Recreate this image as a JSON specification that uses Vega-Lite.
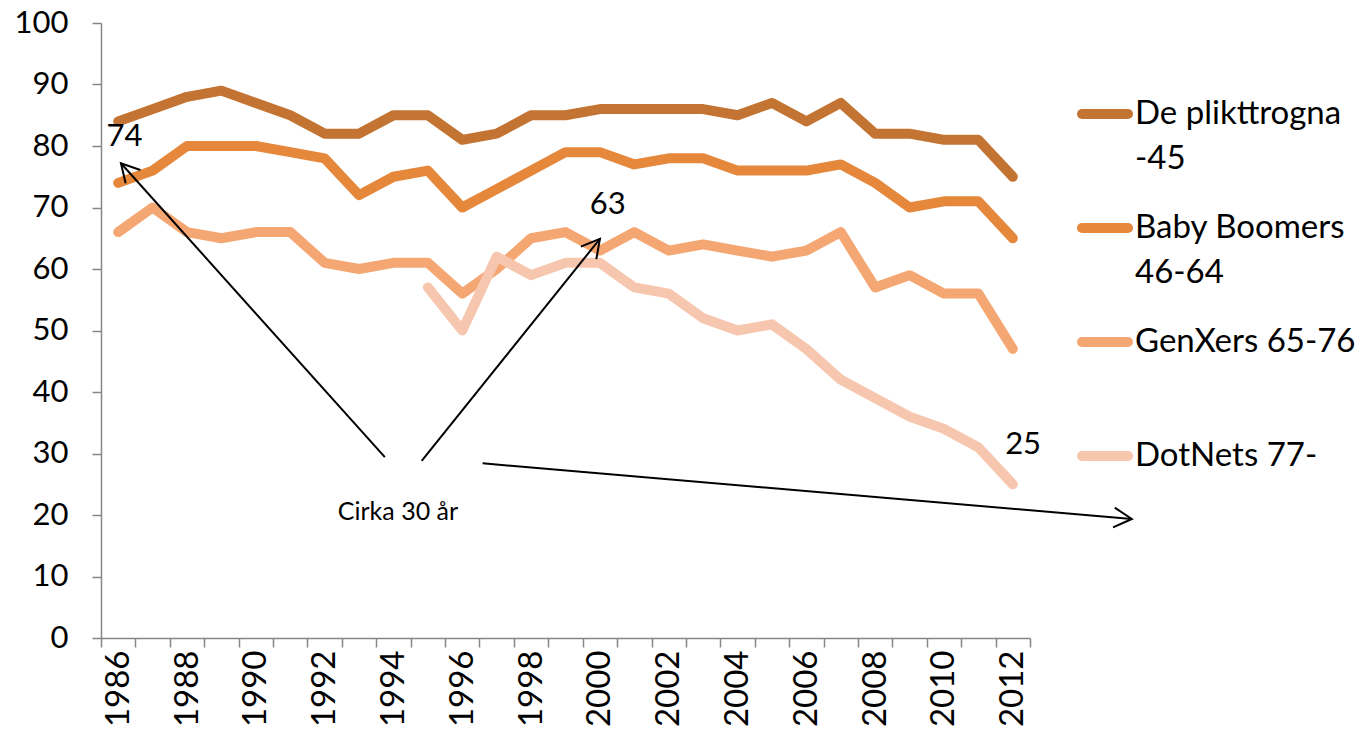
{
  "$schema": "https://vega.github.io/schema/vega-lite/v6.json",
  "width": 929,
  "height": 615,
  "autosize": {"type": "none"},
  "padding": {"left": 101, "top": 23, "right": 333, "bottom": 100},
  "background": "white",
  "config": {
    "view": {"stroke": null},
    "font": "Lato",
    "axis": {"labelFont": "Lato", "labelColor": "#000000", "domainColor": "#868686", "tickColor": "#868686", "grid": false, "title": null}
  },
  "datasets": {
    "series": [
      {"year": 1986, "group": "De plikttrogna -45", "value": 84},
      {"year": 1987, "group": "De plikttrogna -45", "value": 86},
      {"year": 1988, "group": "De plikttrogna -45", "value": 88},
      {"year": 1989, "group": "De plikttrogna -45", "value": 89},
      {"year": 1990, "group": "De plikttrogna -45", "value": 87},
      {"year": 1991, "group": "De plikttrogna -45", "value": 85},
      {"year": 1992, "group": "De plikttrogna -45", "value": 82},
      {"year": 1993, "group": "De plikttrogna -45", "value": 82},
      {"year": 1994, "group": "De plikttrogna -45", "value": 85},
      {"year": 1995, "group": "De plikttrogna -45", "value": 85},
      {"year": 1996, "group": "De plikttrogna -45", "value": 81},
      {"year": 1997, "group": "De plikttrogna -45", "value": 82},
      {"year": 1998, "group": "De plikttrogna -45", "value": 85},
      {"year": 1999, "group": "De plikttrogna -45", "value": 85},
      {"year": 2000, "group": "De plikttrogna -45", "value": 86},
      {"year": 2001, "group": "De plikttrogna -45", "value": 86},
      {"year": 2002, "group": "De plikttrogna -45", "value": 86},
      {"year": 2003, "group": "De plikttrogna -45", "value": 86},
      {"year": 2004, "group": "De plikttrogna -45", "value": 85},
      {"year": 2005, "group": "De plikttrogna -45", "value": 87},
      {"year": 2006, "group": "De plikttrogna -45", "value": 84},
      {"year": 2007, "group": "De plikttrogna -45", "value": 87},
      {"year": 2008, "group": "De plikttrogna -45", "value": 82},
      {"year": 2009, "group": "De plikttrogna -45", "value": 82},
      {"year": 2010, "group": "De plikttrogna -45", "value": 81},
      {"year": 2011, "group": "De plikttrogna -45", "value": 81},
      {"year": 2012, "group": "De plikttrogna -45", "value": 75},
      {"year": 1986, "group": "Baby Boomers 46-64", "value": 74},
      {"year": 1987, "group": "Baby Boomers 46-64", "value": 76},
      {"year": 1988, "group": "Baby Boomers 46-64", "value": 80},
      {"year": 1989, "group": "Baby Boomers 46-64", "value": 80},
      {"year": 1990, "group": "Baby Boomers 46-64", "value": 80},
      {"year": 1991, "group": "Baby Boomers 46-64", "value": 79},
      {"year": 1992, "group": "Baby Boomers 46-64", "value": 78},
      {"year": 1993, "group": "Baby Boomers 46-64", "value": 72},
      {"year": 1994, "group": "Baby Boomers 46-64", "value": 75},
      {"year": 1995, "group": "Baby Boomers 46-64", "value": 76},
      {"year": 1996, "group": "Baby Boomers 46-64", "value": 70},
      {"year": 1997, "group": "Baby Boomers 46-64", "value": 73},
      {"year": 1998, "group": "Baby Boomers 46-64", "value": 76},
      {"year": 1999, "group": "Baby Boomers 46-64", "value": 79},
      {"year": 2000, "group": "Baby Boomers 46-64", "value": 79},
      {"year": 2001, "group": "Baby Boomers 46-64", "value": 77},
      {"year": 2002, "group": "Baby Boomers 46-64", "value": 78},
      {"year": 2003, "group": "Baby Boomers 46-64", "value": 78},
      {"year": 2004, "group": "Baby Boomers 46-64", "value": 76},
      {"year": 2005, "group": "Baby Boomers 46-64", "value": 76},
      {"year": 2006, "group": "Baby Boomers 46-64", "value": 76},
      {"year": 2007, "group": "Baby Boomers 46-64", "value": 77},
      {"year": 2008, "group": "Baby Boomers 46-64", "value": 74},
      {"year": 2009, "group": "Baby Boomers 46-64", "value": 70},
      {"year": 2010, "group": "Baby Boomers 46-64", "value": 71},
      {"year": 2011, "group": "Baby Boomers 46-64", "value": 71},
      {"year": 2012, "group": "Baby Boomers 46-64", "value": 65},
      {"year": 1986, "group": "GenXers 65-76", "value": 66},
      {"year": 1987, "group": "GenXers 65-76", "value": 70},
      {"year": 1988, "group": "GenXers 65-76", "value": 66},
      {"year": 1989, "group": "GenXers 65-76", "value": 65},
      {"year": 1990, "group": "GenXers 65-76", "value": 66},
      {"year": 1991, "group": "GenXers 65-76", "value": 66},
      {"year": 1992, "group": "GenXers 65-76", "value": 61},
      {"year": 1993, "group": "GenXers 65-76", "value": 60},
      {"year": 1994, "group": "GenXers 65-76", "value": 61},
      {"year": 1995, "group": "GenXers 65-76", "value": 61},
      {"year": 1996, "group": "GenXers 65-76", "value": 56},
      {"year": 1997, "group": "GenXers 65-76", "value": 60},
      {"year": 1998, "group": "GenXers 65-76", "value": 65},
      {"year": 1999, "group": "GenXers 65-76", "value": 66},
      {"year": 2000, "group": "GenXers 65-76", "value": 63},
      {"year": 2001, "group": "GenXers 65-76", "value": 66},
      {"year": 2002, "group": "GenXers 65-76", "value": 63},
      {"year": 2003, "group": "GenXers 65-76", "value": 64},
      {"year": 2004, "group": "GenXers 65-76", "value": 63},
      {"year": 2005, "group": "GenXers 65-76", "value": 62},
      {"year": 2006, "group": "GenXers 65-76", "value": 63},
      {"year": 2007, "group": "GenXers 65-76", "value": 66},
      {"year": 2008, "group": "GenXers 65-76", "value": 57},
      {"year": 2009, "group": "GenXers 65-76", "value": 59},
      {"year": 2010, "group": "GenXers 65-76", "value": 56},
      {"year": 2011, "group": "GenXers 65-76", "value": 56},
      {"year": 2012, "group": "GenXers 65-76", "value": 47},
      {"year": 1995, "group": "DotNets 77-", "value": 57},
      {"year": 1996, "group": "DotNets 77-", "value": 50},
      {"year": 1997, "group": "DotNets 77-", "value": 62},
      {"year": 1998, "group": "DotNets 77-", "value": 59},
      {"year": 1999, "group": "DotNets 77-", "value": 61},
      {"year": 2000, "group": "DotNets 77-", "value": 61},
      {"year": 2001, "group": "DotNets 77-", "value": 57},
      {"year": 2002, "group": "DotNets 77-", "value": 56},
      {"year": 2003, "group": "DotNets 77-", "value": 52},
      {"year": 2004, "group": "DotNets 77-", "value": 50},
      {"year": 2005, "group": "DotNets 77-", "value": 51},
      {"year": 2006, "group": "DotNets 77-", "value": 47},
      {"year": 2007, "group": "DotNets 77-", "value": 42},
      {"year": 2008, "group": "DotNets 77-", "value": 39},
      {"year": 2009, "group": "DotNets 77-", "value": 36},
      {"year": 2010, "group": "DotNets 77-", "value": 34},
      {"year": 2011, "group": "DotNets 77-", "value": 31},
      {"year": 2012, "group": "DotNets 77-", "value": 25}
    ],
    "arrows": [
      {"id": "a1", "x1": 1993.75, "y1": 29.4, "x2": 1986.08, "y2": 77.2},
      {"id": "a2", "x1": 1994.82, "y1": 28.8, "x2": 2000.0, "y2": 64.9},
      {"id": "a3", "x1": 1996.59, "y1": 28.4, "x2": 2015.46, "y2": 19.35}
    ],
    "notes": [
      {"year": 1986.18, "value": 81.5, "label": "74", "kind": "num"},
      {"year": 2000.23, "value": 70.4, "label": "63", "kind": "num"},
      {"year": 2012.3, "value": 31.4, "label": "25", "kind": "num"},
      {"year": 1994.13, "value": 20.5, "label": "Cirka 30 år", "kind": "note"}
    ]
  },
  "resolve": {"axis": {"x": "independent"}},
  "layer": [
    {
      "data": {"name": "series"},
      "mark": {"type": "line", "strokeWidth": 10, "strokeCap": "round", "strokeJoin": "round"},
      "encoding": {
        "x": {"field": "year", "type": "quantitative",
          "scale": {"domain": [1985.5, 2012.5], "nice": false, "zero": false},
          "axis": {"orient": "bottom", "values": [1986, 1988, 1990, 1992, 1994, 1996, 1998, 2000, 2002, 2004, 2006, 2008, 2010, 2012], "ticks": false, "labelAngle": -90, "labelFontSize": 33, "labelPadding": 12, "format": "d", "domainWidth": 1.5, "labelFlush": false, "labelOverlap": false}},
        "y": {"field": "value", "type": "quantitative",
          "scale": {"domain": [0, 100], "nice": false},
          "axis": {"values": [0, 10, 20, 30, 40, 50, 60, 70, 80, 90, 100], "tickSize": 9, "labelFontSize": 31, "labelPadding": 24, "domainWidth": 1.5, "tickWidth": 1.5, "labelFlush": false}},
        "color": {"field": "group", "type": "nominal",
          "scale": {"domain": ["De plikttrogna -45", "Baby Boomers 46-64", "GenXers 65-76", "DotNets 77-"], "range": ["#C37432", "#E6883C", "#F5A773", "#F7C6AE"]},
          "legend": {
            "orient": "none", "legendX": 976, "legendY": 63, "padding": 0,
            "title": null, "symbolType": "stroke", "symbolSize": 2116, "symbolStrokeWidth": 10,
            "labelFont": "Lato", "labelFontSize": 33, "labelColor": "#000000", "labelOffset": 2, "labelLimit": 400,
            "rowPadding": 24,
            "labelExpr": "datum.label == 'De plikttrogna -45' ? ['De plikttrogna', '-45'] : datum.label == 'Baby Boomers 46-64' ? ['Baby Boomers', '46-64'] : [datum.label, ' ']",
            "encode": {
              "symbols": {"update": {"strokeCap": {"value": "round"}}},
              "labels": {"update": {"lineHeight": {"value": 45}}}
            }
          }
        }
      }
    },
    {
      "data": {"name": "arrows"},
      "mark": {"type": "rule", "color": "#000000", "strokeWidth": 2},
      "encoding": {
        "x": {"field": "x1", "type": "quantitative",
          "axis": {"orient": "bottom", "values": [1985.5, 1986.5, 1987.5, 1988.5, 1989.5, 1990.5, 1991.5, 1992.5, 1993.5, 1994.5, 1995.5, 1996.5, 1997.5, 1998.5, 1999.5, 2000.5, 2001.5, 2002.5, 2003.5, 2004.5, 2005.5, 2006.5, 2007.5, 2008.5, 2009.5, 2010.5, 2011.5, 2012.5], "labels": false, "domain": false, "tickSize": 9, "tickWidth": 1.5}},
        "y": {"field": "y1", "type": "quantitative"},
        "x2": {"field": "x2"},
        "y2": {"field": "y2"}
      }
    },
    {
      "data": {"name": "arrows"},
      "transform": [{"filter": "datum.id == 'a1'"}],
      "mark": {"type": "point", "shape": "M-1,-0.55L0,0L-1,0.55", "filled": false, "stroke": "#000000", "strokeWidth": 2, "size": 1296, "angle": 228, "opacity": 1},
      "encoding": {"x": {"field": "x2", "type": "quantitative", "axis": null}, "y": {"field": "y2", "type": "quantitative"}}
    },
    {
      "data": {"name": "arrows"},
      "transform": [{"filter": "datum.id == 'a2'"}],
      "mark": {"type": "point", "shape": "M-1,-0.55L0,0L-1,0.55", "filled": false, "stroke": "#000000", "strokeWidth": 2, "size": 1296, "angle": 308.8, "opacity": 1},
      "encoding": {"x": {"field": "x2", "type": "quantitative", "axis": null}, "y": {"field": "y2", "type": "quantitative"}}
    },
    {
      "data": {"name": "arrows"},
      "transform": [{"filter": "datum.id == 'a3'"}],
      "mark": {"type": "point", "shape": "M-1,-0.55L0,0L-1,0.55", "filled": false, "stroke": "#000000", "strokeWidth": 2, "size": 1296, "angle": 4.9, "opacity": 1},
      "encoding": {"x": {"field": "x2", "type": "quantitative", "axis": null}, "y": {"field": "y2", "type": "quantitative"}}
    },
    {
      "data": {"name": "notes"},
      "transform": [{"filter": "datum.kind == 'num'"}],
      "mark": {"type": "text", "font": "Lato", "fontSize": 31, "color": "#000000", "align": "center", "baseline": "middle"},
      "encoding": {"x": {"field": "year", "type": "quantitative", "axis": null}, "y": {"field": "value", "type": "quantitative"}, "text": {"field": "label"}}
    },
    {
      "data": {"name": "notes"},
      "transform": [{"filter": "datum.kind == 'note'"}],
      "mark": {"type": "text", "font": "Lato", "fontSize": 25, "color": "#000000", "align": "center", "baseline": "middle"},
      "encoding": {"x": {"field": "year", "type": "quantitative", "axis": null}, "y": {"field": "value", "type": "quantitative"}, "text": {"field": "label"}}
    }
  ]
}
